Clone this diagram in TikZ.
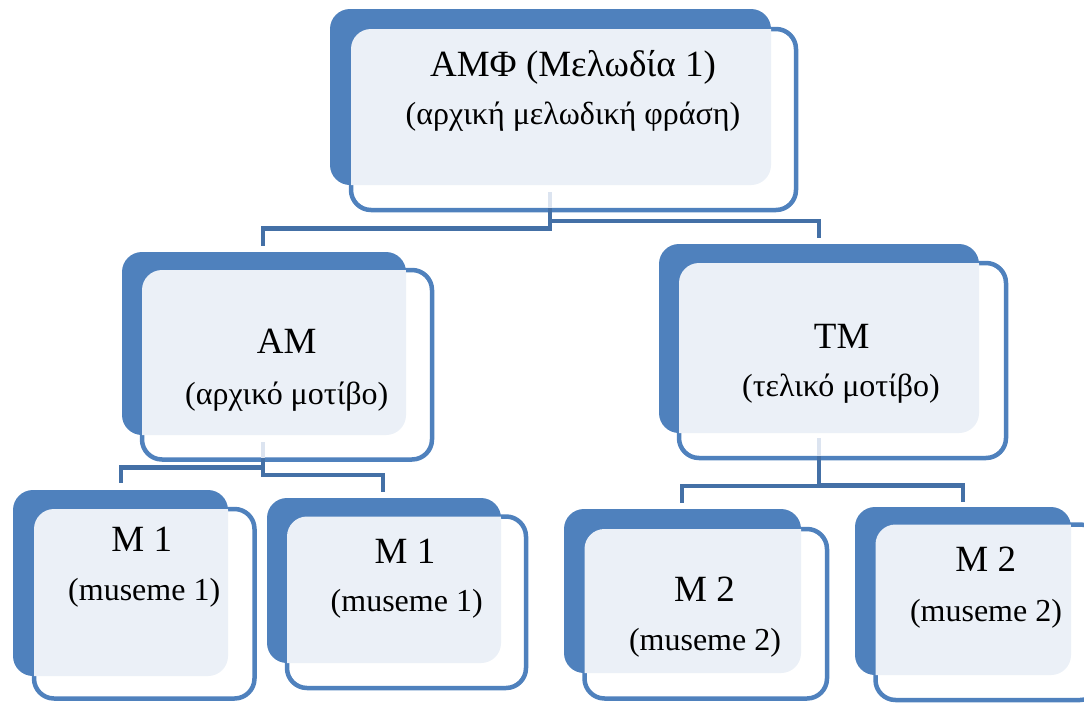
\documentclass[tikz,border=0pt]{standalone}
\usepackage{fontspec}
\setmainfont{Liberation Serif}
\definecolor{backblue}{HTML}{4F81BD}
\definecolor{lightbg}{HTML}{EBF0F7}
\definecolor{connblue}{HTML}{4470A6}
\definecolor{connlight}{HTML}{DCE4F0}
\tikzset{
  backbox/.style={fill=backblue, rounded corners=20pt},
  frontbox/.style={draw=backblue, fill=white, line width=4.5pt, rounded corners=20pt},
  lightbox/.style={fill=lightbg, rounded corners=20pt},
  conn/.style={draw=connblue, line width=4.8pt, line join=miter},
  connin/.style={draw=connlight, line width=4.5pt},
  titletext/.style={anchor=base, inner sep=0pt, font=\fontsize{37}{41}\selectfont},
  subtext/.style={anchor=base, inner sep=0pt, font=\fontsize{32}{37}\selectfont}
}
\newcommand\diagbox[4]{%
  \fill[backbox] (#1) rectangle (#2);
  \draw[frontbox] (#3) rectangle (#4);
  \begin{scope}
    \clip[rounded corners=20pt] (#3) rectangle (#4);
    \fill[lightbox] (#1) rectangle (#2);
  \end{scope}
}
\begin{document}
\begin{tikzpicture}[x=1pt, y=-1pt]
\useasboundingbox (0,0) rectangle (1084,702);

% ---- box corner coordinates ----
\coordinate (topB1) at (330,9);   \coordinate (topB2) at (771,185);
\coordinate (topF1) at (351,29);  \coordinate (topF2) at (796,210);
\coordinate (amB1) at (122,252);  \coordinate (amB2) at (406,435);
\coordinate (amF1) at (142,270);  \coordinate (amF2) at (432,459.5);
\coordinate (tmB1) at (659,244);  \coordinate (tmB2) at (979,433);
\coordinate (tmF1) at (679,263);  \coordinate (tmF2) at (1006,458);
\coordinate (maB1) at (13,490);   \coordinate (maB2) at (228,676);
\coordinate (maF1) at (34,509);   \coordinate (maF2) at (254.5,698.5);
\coordinate (mbB1) at (267,498);  \coordinate (mbB2) at (501,663);
\coordinate (mbF1) at (287,516.5);\coordinate (mbF2) at (526,688);
\coordinate (mcB1) at (564,509);  \coordinate (mcB2) at (801,673);
\coordinate (mcF1) at (584.5,529);\coordinate (mcF2) at (827,698.5);
\coordinate (mdB1) at (855,507);  \coordinate (mdB2) at (1071,675);
\coordinate (mdF1) at (875.5,524.5);\coordinate (mdF2) at (1100,700);

\diagbox{topB1}{topB2}{topF1}{topF2}
\diagbox{amB1}{amB2}{amF1}{amF2}
\diagbox{tmB1}{tmB2}{tmF1}{tmF2}
\diagbox{maB1}{maB2}{maF1}{maF2}
\diagbox{mbB1}{mbB2}{mbF1}{mbF2}
\diagbox{mcB1}{mcB2}{mcF1}{mcF2}
\diagbox{mdB1}{mdB2}{mdF1}{mdF2}

% ---- texts ----
\node[titletext] (topT1) at (573,76.7) {ΑΜΦ (Μελωδία 1)};
\node[subtext]   (topT2) at (573,124.5) {(αρχική μελωδική φράση)};
\node[titletext] (amT1) at (286.7,353.3) {AM};
\node[subtext]   (amT2) at (286.7,404) {(αρχικό μοτίβο)};
\node[titletext] (tmT1) at (841.7,348.3) {TM};
\node[subtext]   (tmT2) at (841,396.7) {(τελικό μοτίβο)};
\node[titletext] (maT1) at (141.7,551) {M 1};
\node[subtext]   (maT2) at (144.2,600) {(museme 1)};
\node[titletext] (mbT1) at (405,563.3) {M 1};
\node[subtext]   (mbT2) at (406.7,611.7) {(museme 1)};
\node[titletext] (mcT1) at (704.5,601) {M 2};
\node[subtext]   (mcT2) at (705,650) {(museme 2)};
\node[titletext] (mdT1) at (985.7,571) {M 2};
\node[subtext]   (mdT2) at (986,621.7) {(museme 2)};

% ---- connector points ----
\coordinate (topIn) at (550,192);  \coordinate (topOut) at (550,208);
\coordinate (topJ) at (550,230.9);
\coordinate (topJL) at (550,228.5); \coordinate (topJR) at (550,221);
\coordinate (amTop) at (263,246);  \coordinate (tmTop) at (819,238);

\coordinate (amIn) at (263,442);   \coordinate (amOut) at (263,457.5);
\coordinate (amJ) at (263,477.4);
\coordinate (amJL) at (263,467.7); \coordinate (amJR) at (263,475);
\coordinate (maTop) at (121,483);  \coordinate (mbTop) at (383,492);

\coordinate (tmIn) at (819,438);   \coordinate (tmOut) at (819,456);
\coordinate (tmJ) at (819,488.4);
\coordinate (tmJL) at (819,486);   \coordinate (tmJR) at (819,485.5);
\coordinate (mcTop) at (682,503);  \coordinate (mdTop) at (963,502);

% ---- connectors ----
\draw[connin] (topIn) -- (topOut);
\draw[conn] (topOut) -- (topJ);
\draw[conn] (topJL) -| (amTop);
\draw[conn] (topJR) -| (tmTop);

\draw[connin] (amIn) -- (amOut);
\draw[conn] (amOut) -- (amJ);
\draw[conn] (amJL) -| (maTop);
\draw[conn] (amJR) -| (mbTop);

\draw[connin] (tmIn) -- (tmOut);
\draw[conn] (tmOut) -- (tmJ);
\draw[conn] (tmJL) -| (mcTop);
\draw[conn] (tmJR) -| (mdTop);
\end{tikzpicture}
\end{document}
